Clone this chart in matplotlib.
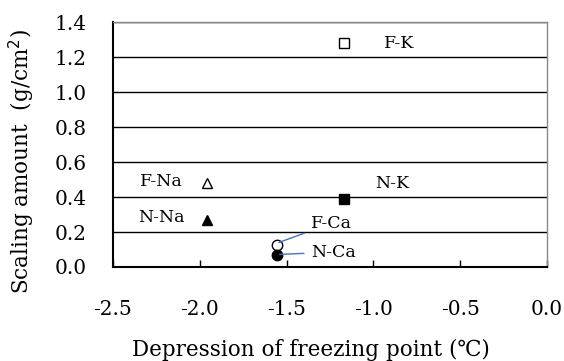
import matplotlib.pyplot as plt

# === Data ===
labels = ["F-K", "N-K", "F-Na", "N-Na", "F-Ca", "N-Ca"]
x_vals = [-1.17, -1.17, -1.96, -1.96, -1.555, -1.555]
y_vals = [1.28, 0.39, 0.48, 0.27, 0.125, 0.07]
markers = ["s", "s", "^", "^", "o", "o"]
filled = [False, True, False, True, False, True]
xticks = [-2.5, -2.0, -1.5, -1.0, -0.5, 0.0]
yticks = [0.0, 0.2, 0.4, 0.6, 0.8, 1.0, 1.2, 1.4]

plt.rcParams['font.family'] = ['DejaVu Serif', 'Noto Sans CJK JP']
plt.rcParams['font.size'] = 12

fig = plt.figure(figsize=(5.64, 3.61), dpi=100)
ax = fig.add_axes([113/564, 1 - 267/361, (547-113)/564, (267-22)/361])

for x, y, m, f in zip(x_vals, y_vals, markers, filled):
    ax.plot(x, y, marker=m, linestyle='none', markersize=7.5,
            markerfacecolor='black' if f else 'white', markeredgecolor='black',
            markeredgewidth=1, zorder=3)

# point labels
ax.text(-0.85, 1.28, "F-K", fontsize=12.5, ha='center', va='center')
ax.text(-0.89, 0.475, "N-K", fontsize=12.5, ha='center', va='center')
ax.text(-2.22, 0.49, "F-Na", fontsize=12.5, ha='center', va='center')
ax.text(-2.22, 0.28, "N-Na", fontsize=12.5, ha='center', va='center')
ax.annotate("F-Ca", xy=(-1.545, 0.14), xytext=(-1.36, 0.25), fontsize=12.5,
            ha='left', va='center',
            arrowprops=dict(arrowstyle='-', color='#4472C4', lw=1, shrinkA=3, shrinkB=0))
ax.annotate("N-Ca", xy=(-1.54, 0.072), xytext=(-1.36, 0.085), fontsize=12.5,
            ha='left', va='center',
            arrowprops=dict(arrowstyle='-', color='#4472C4', lw=1, shrinkA=3, shrinkB=0))

ax.set_xlim(-2.5, 0.0)
ax.set_ylim(0.0, 1.4)
ax.set_xticks(xticks)
ax.set_xticklabels([f"{v:.1f}" for v in xticks])
ax.set_yticks(yticks)
ax.set_yticklabels([f"{v:.1f}" for v in yticks])
ax.yaxis.grid(True, color='black', lw=1)
ax.set_axisbelow(True)
ax.tick_params(axis='x', direction='in', length=5, width=1, pad=24, labelsize=14.5)
ax.tick_params(axis='y', length=0, pad=19, labelsize=14.5)

for s in ['left', 'bottom']:
    ax.spines[s].set_linewidth(1.5)
for s in ['top', 'right']:
    ax.spines[s].set_color('#888888')
    ax.spines[s].set_linewidth(1)

ax.set_xlabel("Depression of freezing point (℃)", fontsize=15.5)
ax.set_ylabel("Scaling amount  (g/cm$^2$)", fontsize=15.5)
ax.xaxis.set_label_coords(0.455, -0.295)
ax.yaxis.set_label_coords(-0.174, 0.43)

fig.savefig("out.png", dpi=100)
